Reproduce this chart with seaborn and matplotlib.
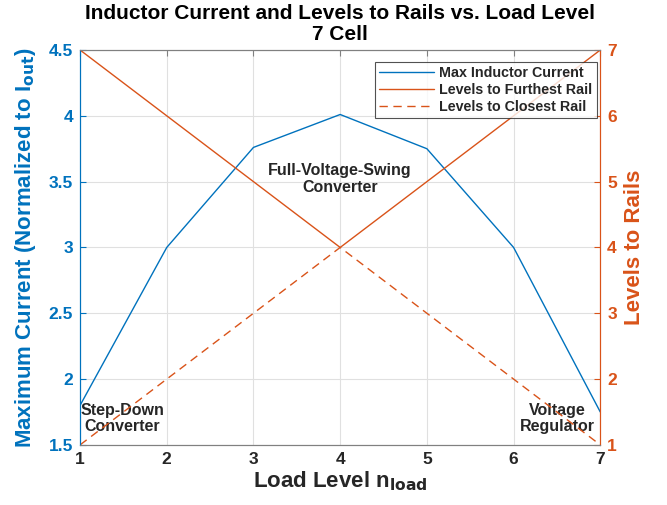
import matplotlib
matplotlib.use("Agg")
import matplotlib.pyplot as plt
import seaborn as sns
import pandas as pd

sns.set_style("white")
plt.rcParams['font.family'] = ['Liberation Sans', 'DejaVu Sans']
plt.rcParams['font.weight'] = 'bold'

load_level = [1, 2, 3, 4, 5, 6, 7]
max_current = [1.8, 3.0, 3.76, 4.01, 3.75, 3.0, 1.75]
furthest_rail = [7, 6, 5, 4, 5, 6, 7]
closest_rail = [1, 2, 3, 4, 3, 2, 1]

blue = '#0072BD'
orange = '#D95319'
grey = '#262626'

df = pd.DataFrame({'n': load_level, 'cur': max_current,
                   'far': furthest_rail, 'close': closest_rail})

fig = plt.figure(figsize=(6.67, 5.05), dpi=100)
ax = fig.add_axes([0.12, 0.119, 0.78, 0.782])
ax2 = ax.twinx()

sns.lineplot(data=df, x='n', y='cur', ax=ax, color=blue, lw=1.0, label='Max Inductor Current', legend=False)
sns.lineplot(data=df, x='n', y='far', ax=ax2, color=orange, lw=1.0, label='Levels to Furthest Rail', legend=False)
sns.lineplot(data=df, x='n', y='close', ax=ax2, color=orange, lw=1.0, linestyle=(0, (6, 4)), label='Levels to Closest Rail', legend=False)

ax.set_xlim(1, 7)
ax.set_ylim(1.5, 4.5)
ax2.set_ylim(1, 7)
ax.set_xticks(load_level)
ax.set_yticks([1.5, 2, 2.5, 3, 3.5, 4, 4.5])
ax.set_yticklabels(['1.5', '2', '2.5', '3', '3.5', '4', '4.5'])
ax2.set_yticks([1, 2, 3, 4, 5, 6, 7])

ax.grid(True, color='#E0E0E0', lw=0.8)
ax.set_axisbelow(True)

for s in ['top', 'bottom']:
    ax.spines[s].set_color('#808080')
    ax2.spines[s].set_color('#808080')
ax2.spines['left'].set_color(blue)
ax2.spines['right'].set_color(orange)
ax.spines['left'].set_color(blue)
ax.spines['right'].set_color(orange)

ax.tick_params(axis='x', direction='in', colors='#808080', labelcolor=grey, labelsize=12.5, length=4, top=True, pad=5)
ax.tick_params(axis='y', direction='in', colors=blue, labelcolor=blue, labelsize=12.5, length=4, pad=5)
ax2.tick_params(axis='y', direction='in', colors=orange, labelcolor=orange, labelsize=12.5, length=4, pad=5)
for lab in ax.get_xticklabels() + ax.get_yticklabels() + ax2.get_yticklabels():
    lab.set_fontweight('bold')

ax.set_xlabel('Load Level n$_{\\mathbf{load}}$', fontsize=16, fontweight='bold', color=grey, labelpad=2)
ax.set_ylabel('Maximum Current (Normalized to I$_{\\mathbf{out}}$)', fontsize=16, fontweight='bold', color=blue, labelpad=8)
ax2.set_ylabel('Levels to Rails', fontsize=16, fontweight='bold', color=orange, labelpad=5)
ax.set_title('Inductor Current and Levels to Rails vs. Load Level\n7 Cell', fontsize=15, fontweight='bold', color='black', pad=7, linespacing=1.15)

ax.text(4.0, 3.52, 'Full-Voltage-Swing\nConverter', ha='center', va='center', fontsize=11.5, fontweight='bold', linespacing=1.1)
ax.text(1.49, 1.7, 'Step-Down\nConverter', ha='center', va='center', fontsize=11.5, fontweight='bold', linespacing=1.1)
ax.text(6.5, 1.7, 'Voltage\nRegulator', ha='center', va='center', fontsize=11.5, fontweight='bold', linespacing=1.1)

h1, l1 = ax.get_legend_handles_labels()
h2, l2 = ax2.get_legend_handles_labels()
leg = ax2.legend(h1 + h2, l1 + l2, loc='upper right', bbox_to_anchor=(0.993, 0.97), fontsize=10.3,
                 frameon=True, fancybox=False, edgecolor='#262626', handlelength=3.8,
                 borderpad=0.3, labelspacing=0.2, handletextpad=0.4, borderaxespad=0.0)
leg.get_frame().set_linewidth(0.8)
for t in leg.get_texts():
    t.set_fontweight('bold')

fig.savefig('out.png', dpi=100)
